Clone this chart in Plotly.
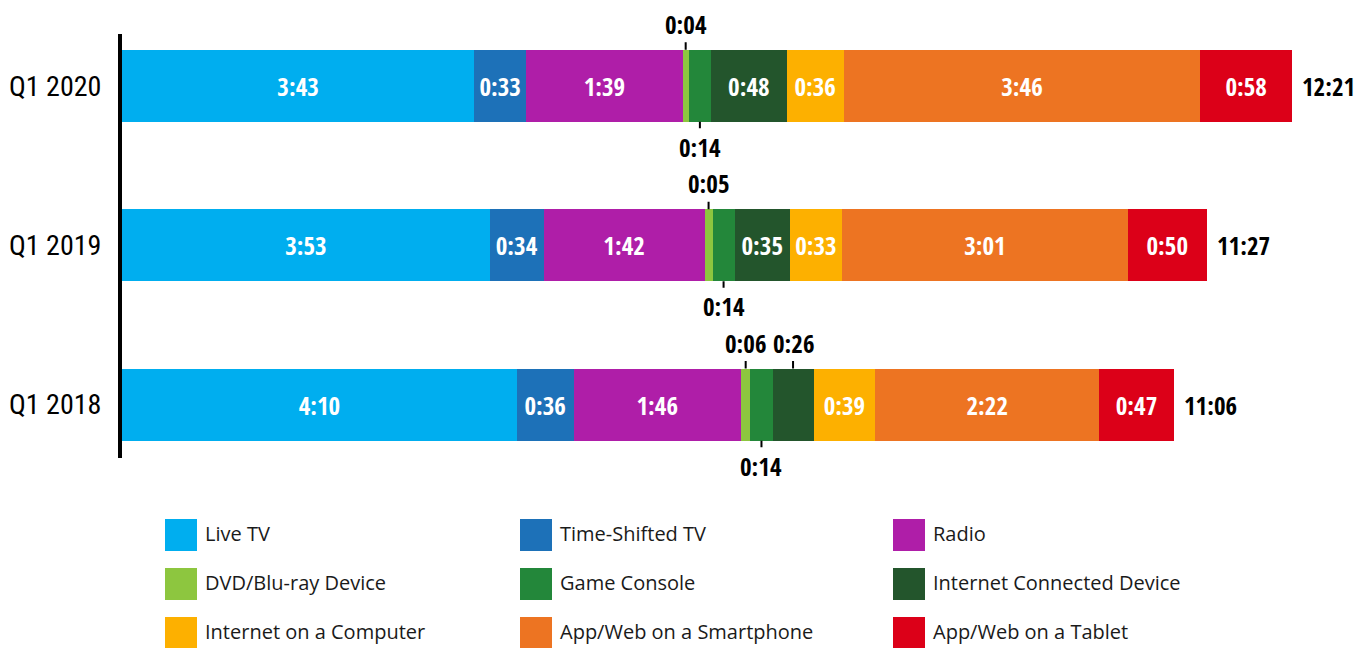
import plotly.graph_objects as go

# Average daily media time (minutes) by quarter
quarters = ["Q1 2018", "Q1 2019", "Q1 2020"]
series = [
    "Live TV", "Time-Shifted TV", "Radio",
    "DVD/Blu-ray Device", "Game Console", "Internet Connected Device",
    "Internet on a Computer", "App/Web on a Smartphone", "App/Web on a Tablet",
]
live_tv = [250, 233, 223]
time_shifted_tv = [36, 34, 33]
radio = [106, 102, 99]
dvd_bluray = [6, 5, 4]
game_console = [14, 14, 14]
internet_connected = [26, 35, 48]
internet_computer = [39, 33, 36]
smartphone = [142, 181, 226]
tablet = [47, 50, 58]

values = [live_tv, time_shifted_tv, radio, dvd_bluray, game_console,
          internet_connected, internet_computer, smartphone, tablet]
colors = ["#00AEEF", "#1D71B8", "#AF1EA8", "#8DC63F", "#23873A",
          "#23552C", "#FDB000", "#ED7422", "#DC0018"]
# where a label goes when the segment is too narrow to hold it
outside_side = {3: "above", 4: "below", 5: "above"}

COND_B = "Open Sans Condensed, Roboto Condensed, Liberation Sans Narrow, Roboto, sans-serif"
COND_R = "Roboto Condensed, Open Sans Condensed, Liberation Sans Narrow, Roboto, sans-serif"
W, H = 1361, 648
L, R, T, B = 122, 0, 34, 190
BAR_W = 0.452
MIN_INSIDE = 30
LBL = 25


def hm(m):
    return f"{m // 60}:{m % 60:02d}"


fig = go.Figure()
annotations = []
for k, (name, vals, col) in enumerate(zip(series, values, colors)):
    texts = [hm(v) if v >= MIN_INSIDE else "" for v in vals]
    fig.add_trace(go.Bar(
        name=name, y=quarters, x=vals, orientation="h", width=BAR_W,
        marker=dict(color=col, line=dict(width=0)),
        text=texts, textposition="inside", insidetextanchor="middle",
        textangle=0,
        textfont=dict(family=COND_B, size=LBL, color="white", weight="bold"),
        hoverinfo="skip", showlegend=False,
    ))

# small segments: callout labels with a short leader
for i in range(len(quarters)):
    base = 0
    for k, vals in enumerate(values):
        v = vals[i]
        if v < MIN_INSIDE and k in outside_side:
            up = outside_side[k] == "above"
            annotations.append(dict(
                x=base + v / 2, y=i + (BAR_W / 2 if up else -BAR_W / 2),
                xref="x", yref="y", text=hm(v), showarrow=True,
                arrowhead=0, arrowwidth=2, arrowcolor="black",
                ax=0, ay=-26 if up else 25, standoff=0,
                font=dict(family=COND_B, size=LBL, color="black", weight="bold"),
            ))
        base += v
    annotations.append(dict(
        x=base, y=i, xref="x", yref="y", text=hm(base), showarrow=False,
        xanchor="left", xshift=8,
        font=dict(family=COND_B, size=LBL, color="black", weight="bold"),
    ))

# legend: three columns of colour swatches
plot_w = W - L - R
plot_h = H - T - B
col_x = [165, 520, 893]
row_y = [535, 584, 633]
shapes = []
for k, (name, col) in enumerate(zip(series, colors)):
    px = col_x[k % 3]
    py = row_y[k // 3]
    x0 = (px - L) / plot_w
    x1 = (px + 32 - L) / plot_w
    y0 = (H - B - (py + 16)) / plot_h
    y1 = (H - B - (py - 16)) / plot_h
    shapes.append(dict(type="rect", xref="paper", yref="paper",
                       x0=x0, x1=x1, y0=y0, y1=y1,
                       fillcolor=col, line=dict(width=0)))
    annotations.append(dict(
        x=(px + 38 - L) / plot_w, y=(H - B - (py - 2)) / plot_h,
        xref="paper", yref="paper", text=name, showarrow=False,
        xanchor="left", yanchor="middle",
        font=dict(family="Open Sans, Noto Sans, sans-serif", size=20, color="#1a1a1a"),
    ))

scale = 1170 / 741
fig.update_layout(
    width=W, height=H, barmode="stack",
    margin=dict(l=L, r=R, t=T, b=B, autoexpand=False),
    plot_bgcolor="white", paper_bgcolor="white",
    xaxis=dict(range=[0, plot_w / scale], visible=False, fixedrange=True,
               automargin=False),
    yaxis=dict(type="category", categoryorder="array", categoryarray=quarters,
               range=[-0.335, 2.325], showline=True, linecolor="black",
               linewidth=4, showgrid=False, zeroline=False, ticks="",
               automargin=False, ticklabelstandoff=11,
               tickfont=dict(family=COND_R, size=28, color="black")),
    annotations=annotations, shapes=shapes,
    uniformtext=dict(minsize=LBL, mode="show"),
)

fig.write_html("out.html")
